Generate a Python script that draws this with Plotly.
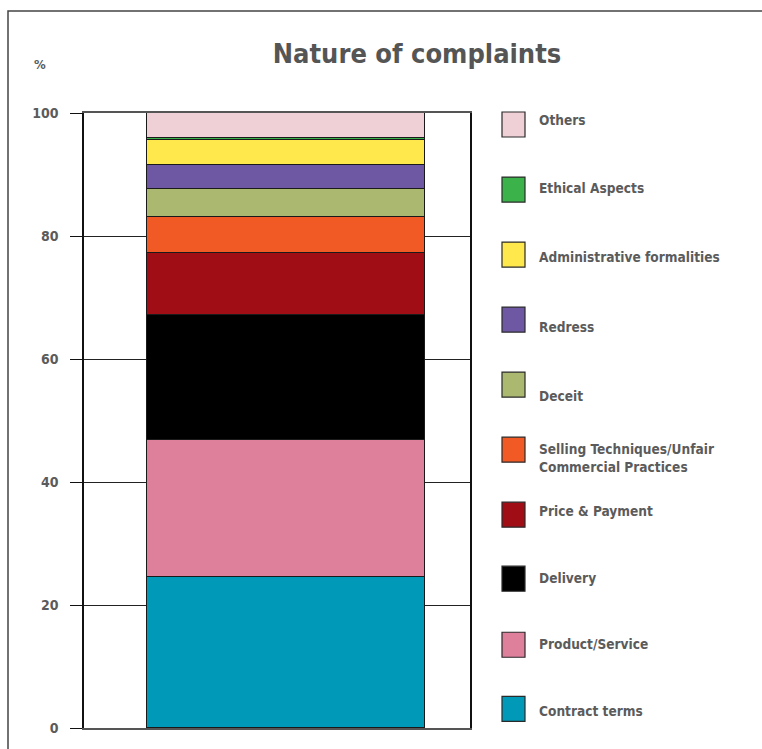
import plotly.graph_objects as go

# Complaint categories, bottom of the stack first
categories = [
    "Contract terms",
    "Product/Service",
    "Delivery",
    "Price & Payment",
    "Selling Techniques/Unfair<br>Commercial Practices",
    "Deceit",
    "Redress",
    "Administrative formalities",
    "Ethical Aspects",
    "Others",
]
shares = [24.6, 22.2, 20.3, 10.1, 5.9, 4.5, 4.0, 4.0, 0.4, 4.0]
colors = [
    "#0099b8", "#de7f9b", "#000000", "#a10d14", "#f15a24",
    "#abb86f", "#6e58a3", "#ffe84c", "#3bb34a", "#f0d0d7",
]
y_ticks = [0, 20, 40, 60, 80, 100]

W, H = 762, 749
L, R, T, B = 84, 470, 113, 727.7
TXT = "#5b5b5b"
FONT = "DejaVu Sans Condensed"


def px_x(x):
    return (x - L) / (R - L)


def px_y(y):
    return (B - y) / (B - T)


fig = go.Figure()
for name, val, col in zip(categories, shares, colors):
    fig.add_trace(go.Bar(
        x=[0], y=[val], name=name, width=1,
        marker=dict(color=col, line=dict(color="#1a1a1a", width=1)),
        showlegend=False, hoverinfo="name+y",
    ))

# Legend drawn as swatches with labels, top entry first
legend_rows = [  # (swatch top, label centre) in pixels
    (696, 711), (632, 644), (566, 578), (502, 511), (437, 458),
    (372, 396), (307, 327), (242, 257), (177, 188), (112, 120),
]
shapes = []
annotations = []
for name, col, (top, ty) in zip(categories, colors, legend_rows):
    shapes.append(dict(
        type="rect", xref="paper", yref="paper",
        x0=px_x(502), x1=px_x(525), y0=px_y(top + 25), y1=px_y(top),
        fillcolor=col, line=dict(color="#2a2a2a", width=1.2),
    ))
    annotations.append(dict(
        xref="paper", yref="paper", x=px_x(537), y=px_y(ty),
        xanchor="left", yanchor="middle", align="left", showarrow=False,
        text="<b>%s</b>" % name, font=dict(size=13.6, color=TXT, family=FONT),
    ))

# Outer frame
shapes.append(dict(
    type="rect", xref="paper", yref="paper",
    x0=px_x(8), x1=px_x(800), y0=px_y(790), y1=px_y(11),
    line=dict(color="#444444", width=1.5), fillcolor="rgba(0,0,0,0)",
))

annotations.append(dict(
    xref="paper", yref="paper", x=px_x(40), y=px_y(65),
    xanchor="center", yanchor="middle", showarrow=False,
    text="<b>%</b>", font=dict(size=13, color=TXT, family=FONT),
))

fig.update_layout(
    width=W, height=H, autosize=False,
    margin=dict(l=L, r=W - R, t=T, b=H - B, pad=0),
    paper_bgcolor="white", plot_bgcolor="white",
    barmode="stack", bargap=0,
    font=dict(family=FONT, color=TXT),
    title=dict(
        text="<b>Nature of complaints</b>", xref="paper", x=px_x(417),
        xanchor="center", yref="container", y=1 - 54 / H, yanchor="middle",
        font=dict(size=27, color="#555555", family=FONT),
    ),
    xaxis=dict(
        range=[-(147 - L) / 278 - 0.5, (R - 147) / 278 - 0.5],
        showticklabels=False, showgrid=False, zeroline=False,
        showline=True, linecolor="#555555", linewidth=2, mirror=True,
        fixedrange=True,
    ),
    yaxis=dict(
        range=[0, 100], tickvals=y_ticks,
        ticktext=["<b>%d</b>" % v for v in y_ticks],
        tickfont=dict(size=14, color=TXT, family=FONT),
        ticks="outside", ticklen=12, tickcolor="#111111", tickwidth=1,
        ticklabelstandoff=9,
        showgrid=True, gridcolor="#222222", gridwidth=1,
        zeroline=False, showline=True, linecolor="#111111", linewidth=1.5,
        mirror=True,
    ),
    shapes=shapes, annotations=annotations,
)

fig.write_html("out.html")
